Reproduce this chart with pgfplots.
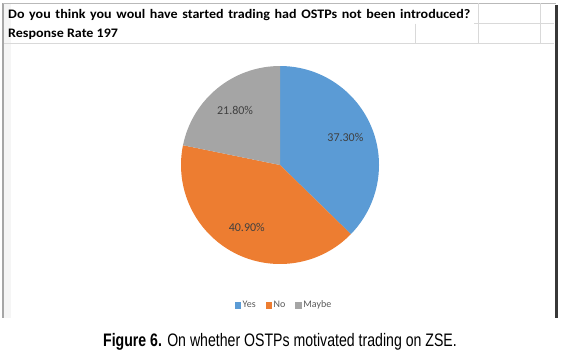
\documentclass[border=0pt]{standalone}
\usepackage{pgfplots}
\usepackage{pgfplotstable}
\pgfplotsset{compat=1.18}
\usepackage{fontspec}
\setmainfont{Carlito}
\newfontfamily\titlefont[FakeStretch=1.08]{Carlito}
\newfontfamily\capfont[FakeStretch=0.78]{Liberation Sans}
\definecolor{xlblue}{HTML}{5B9BD5}
\definecolor{xlorange}{HTML}{ED7D31}
\definecolor{xlgray}{HTML}{A5A5A5}
\definecolor{lbltxt}{HTML}{404040}
\definecolor{legtxt}{HTML}{595959}
\definecolor{gridc}{HTML}{D9D9D9}

\pgfplotstableread[col sep=comma]{
label,value,color
Yes,37.3,xlblue
No,40.9,xlorange
Maybe,21.8,xlgray
}\piedata

\begin{document}
\begin{tikzpicture}
\path[use as bounding box] (0,0) rectangle (564pt,354pt);
\begin{axis}[
  at={(0,0)}, anchor=south west,
  scale only axis, width=564pt, height=354pt,
  xmin=0, xmax=564, ymin=0, ymax=354, y dir=reverse,
  hide axis, clip=false,
  legend style={at={(axis cs:284,305)}, anchor=center, draw=none, fill=none,
    font=\fontsize{10}{11}\selectfont\color{legtxt}, legend columns=-1,
    /tikz/every even column/.append style={column sep=8pt}},
  legend cell align=left,
]
% frame and sheet grid
\pgfplotsextra{
  \fill[gray!8] (axis cs:4,4) rectangle (axis cs:11,318);
  \draw[gray!70, line width=1.6pt] (axis cs:3,3) -- (axis cs:3,318);
  \draw[gray!55, line width=1pt] (axis cs:3,3) -- (axis cs:556,3);
  \draw[gridc, line width=0.6pt] (axis cs:474,23.5) -- (axis cs:554,23.5);
  \draw[gridc, line width=0.6pt] (axis cs:4,43) -- (axis cs:554,43);
  \draw[gridc, line width=0.6pt] (axis cs:415,23.5) -- (axis cs:415,43);
  \draw[gridc, line width=0.6pt] (axis cs:478,3) -- (axis cs:478,43);
  \draw[gridc, line width=0.6pt] (axis cs:540,3) -- (axis cs:540,43);
  \draw[black!78, line width=3pt] (axis cs:556,5) -- (axis cs:556,318);
  \node[anchor=base west, font=\titlefont\bfseries\fontsize{13}{15}\selectfont, inner sep=0pt]
    at (axis cs:8,18.5) {\makebox[462pt][s]{Do you think you woul have started trading had OSTPs not been introduced?}};
  \node[anchor=base west, font=\titlefont\bfseries\fontsize{13}{15}\selectfont, inner sep=0pt]
    at (axis cs:8,37) {Response Rate 197};
  \node[anchor=base, font=\capfont\fontsize{18.1}{20}\selectfont, inner sep=0pt]
    at (axis cs:280,346.5) {\textbf{Figure 6.} On whether OSTPs motivated trading on ZSE.};
}
% pie slices from the table
\pgfplotsextra{
  \gdef\curang{90}
  \foreach \i in {0,1,2}{
    \pgfplotstablegetelem{\i}{value}\of\piedata \let\v\pgfplotsretval
    \pgfplotstablegetelem{\i}{color}\of\piedata \let\c\pgfplotsretval
    \pgfmathsetmacro{\endang}{\curang-3.6*\v}
    \pgfmathsetmacro{\midang}{(\curang+\endang)/2}
    \fill[\c] (axis cs:280,165) -- ++(\curang:99pt) arc[start angle=\curang, end angle=\endang, radius=99pt] -- cycle;
    \path (axis cs:280,165) ++(\midang:71pt) node[font=\fontsize{12}{13}\selectfont, text=lbltxt]
      {\pgfmathprintnumber[fixed,fixed zerofill,precision=2,assume math mode=true]{\v}\%};
    \global\let\curang\endang
  }
}
\addlegendimage{legend image code/.code={\fill[xlblue] (0pt,-2.8pt) rectangle (5.6pt,2.8pt);}}
\addlegendentry{Yes}
\addlegendimage{legend image code/.code={\fill[xlorange] (0pt,-2.8pt) rectangle (5.6pt,2.8pt);}}
\addlegendentry{No}
\addlegendimage{legend image code/.code={\fill[xlgray] (0pt,-2.8pt) rectangle (5.6pt,2.8pt);}}
\addlegendentry{Maybe}
\end{axis}
\end{tikzpicture}
\end{document}
